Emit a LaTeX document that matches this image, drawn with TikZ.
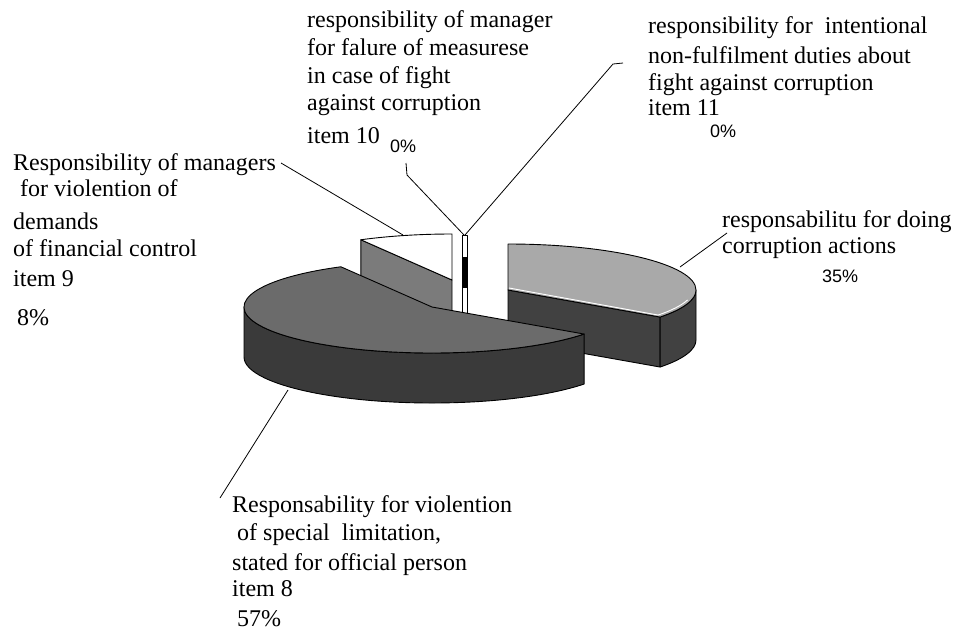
\documentclass[tikz,border=0pt]{standalone}
\usepackage{fontspec}
\setmainfont{Liberation Serif}
\newfontfamily\sansf{Liberation Sans}
\usetikzlibrary{calc}
\definecolor{bigtop}{HTML}{6B6B6B}
\definecolor{bigside}{HTML}{3A3A3A}
\definecolor{rtop}{HTML}{A9A9A9}
\definecolor{rside}{HTML}{414141}
\definecolor{smallside}{HTML}{7B7B7B}
\begin{document}
\begin{tikzpicture}[x=1pt,y=1pt,
  lbl/.style={anchor=base west, inner sep=0pt, font=\fontsize{24}{28}\selectfont},
  pct/.style={anchor=base west, inner sep=0pt, font=\sansf\fontsize{18}{20}\selectfont},
  leader/.style={draw=black, line width=0.8pt},
  faceedge/.style={draw=black, line width=0.9pt, line join=round},
  ell/.style={x radius=188pt, y radius=46pt},
]
\useasboundingbox (0,0) rectangle (956,-632);
\def\hh{50}
% centres of the three exploded slices
\coordinate (Cb) at (432,-307);
\coordinate (Cs) at (452,-280);
\coordinate (Cr) at (508,-290);
\coordinate (S119) at ([shift={(Cs)}]119:188pt and 46pt);
\coordinate (S90)  at ([shift={(Cs)}]90:188pt and 46pt);
\coordinate (B119) at ([shift={(Cb)}]119:188pt and 46pt);
\coordinate (B180) at ([shift={(Cb)}]180:188pt and 46pt);
\coordinate (B324) at ([shift={(Cb)}]324:188pt and 46pt);
\coordinate (R90)  at ([shift={(Cr)}]90:188pt and 46pt);
\coordinate (R324) at ([shift={(Cr)}]324:188pt and 46pt);

% ---- small slice (8%) ----
\filldraw[faceedge, fill=smallside] (S119) -- (Cs) -- ($(Cs)+(0,-\hh)$) -- ($(S119)+(0,-\hh)$) -- cycle;
\filldraw[faceedge, fill=white] (Cs) -- (S90) arc[ell, start angle=90, end angle=119] -- cycle;

% ---- zero slices ----
\filldraw[faceedge, fill=white] (462,-235) rectangle (467,-318);
\fill[black] (462,-257) rectangle (467,-288);

% ---- right slice (35%) ----
\filldraw[faceedge, fill=rside] (Cr) -- (R324) -- ($(R324)+(0,-\hh)$) -- ($(Cr)+(0,-\hh)$) -- cycle;
\filldraw[faceedge, fill=rside] (R324) arc[ell, start angle=324, end angle=360]
   -- ++(0,-\hh) arc[ell, start angle=360, end angle=324] -- cycle;
\filldraw[faceedge, fill=rtop] (Cr) -- (R90) arc[ell, start angle=90, end angle=-36] -- cycle;
\draw[white, line width=0.9pt] ($(Cr)+(1,2)$) -- ($(R324)+(-2,2)$)
   arc[ell, start angle=324, end angle=345];

% ---- big slice (57%) ----
\filldraw[faceedge, fill=bigside] (B180) arc[ell, start angle=180, end angle=324]
   -- ++(0,-\hh) arc[ell, start angle=324, end angle=180] -- cycle;
\filldraw[faceedge, fill=bigtop] (Cb) -- (B119) arc[ell, start angle=119, end angle=324] -- cycle;

% ---- labels ----
\node[lbl] (m1) at (307,-27) {responsibility of manager};
\node[lbl] (m2) at (307,-55) {for falure of measurese};
\node[lbl] (m3) at (307,-83) {in case of fight};
\node[lbl] (m4) at (307,-110) {against corruption};
\node[lbl] (m5) at (307,-143) {item 10};
\node[pct] (p10) at (390,-152) {0\%};

\node[lbl] (n1) at (648,-33) {responsibility for\ \ intentional};
\node[lbl] (n2) at (648,-63) {non-fulfilment duties about};
\node[lbl] (n3) at (648,-90) {fight against corruption};
\node[lbl] (n4) at (648,-115) {item 11};
\node[pct] (p11) at (710,-137) {0\%};

\node[lbl] (r1) at (722,-227) {responsabilitu for doing};
\node[lbl] (r2) at (722,-253) {corruption actions};
\node[pct] (p35) at (822,-282) {35\%};

\node[lbl] (l1) at (13,-170) {Responsibility of managers};
\node[lbl] (l2) at (20,-196) {for violention of};
\node[lbl] (l3) at (13,-229) {demands};
\node[lbl] (l4) at (13,-256) {of financial control};
\node[lbl] (l5) at (13,-286) {item 9};
\node[lbl] (p9) at (17,-325) {8\%};

\node[lbl] (b1) at (232,-512) {Responsability for violention};
\node[lbl] (b2) at (237,-540) {of special\ \ limitation,};
\node[lbl] (b3) at (232,-570) {stated for official person};
\node[lbl] (b4) at (232,-596) {item 8};
\node[lbl] (p8) at (237,-626) {57\%};

% ---- leader lines ----
\coordinate (k9a) at (281,-163);  \coordinate (k9b) at (403,-235);
\coordinate (k10a) at (406,-163); \coordinate (k10b) at (407,-175); \coordinate (k10c) at (464,-235);
\coordinate (k11a) at (623,-63);  \coordinate (k11b) at (613,-64);  \coordinate (k11c) at (465,-235);
\coordinate (k35a) at (727,-233); \coordinate (k35b) at (680,-267);
\coordinate (k8a) at (288,-390);  \coordinate (k8b) at (220,-498);
\draw[leader] (k9a) -- (k9b);
\draw[leader] (k10a) -- (k10b) -- (k10c);
\draw[leader] (k11a) -- (k11b) -- (k11c);
\draw[leader] (k35a) -- (k35b);
\draw[leader] (k8a) -- (k8b);
\end{tikzpicture}
\end{document}
